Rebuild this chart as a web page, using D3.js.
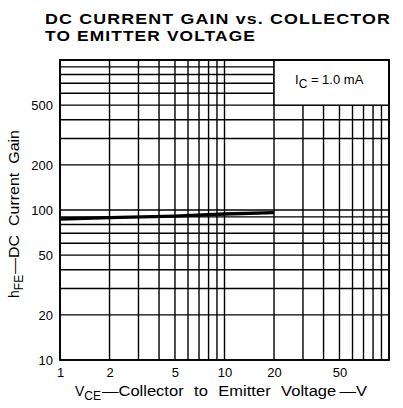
<!DOCTYPE html>
<html><head><meta charset="utf-8">
<script src="https://cdn.jsdelivr.net/npm/d3@7"></script>
<style>body{margin:0;background:#fff}svg{display:block}text{font-family:"Liberation Sans",Arial,sans-serif;fill:#000}</style>
</head><body>
<svg id="c" width="403" height="408"></svg>
<script>
const vce = [1, 2, 5, 10, 20];
const hfe = [87, 89, 91, 94, 96];
const xTicks = [1, 2, 5, 10, 20, 50];
const yTicks = [10, 20, 50, 100, 200, 500];
const xGrid = [1,2,3,4,5,6,7,8,9,10,20,30,40,50,60,70,80,90,100];
const yGrid = [10,20,30,40,50,60,70,80,90,100,200,300,400,500,600,700,800,900,1000];

const svg = d3.select("#c");
const L = 60, R = 389, T = 60, B = 360;
const x = d3.scaleLog().domain([1, 100]).range([L, R]);
const y = d3.scaleLog().domain([10, 1000]).range([B, T]);

// title
svg.append("text").attr("x", 45).attr("y", 24).attr("font-size", 15.5).attr("font-weight", "bold")
  .attr("letter-spacing", 1)
  .attr("textLength", 346).attr("lengthAdjust", "spacingAndGlyphs").text("DC CURRENT GAIN vs. COLLECTOR");
svg.append("text").attr("x", 45).attr("y", 41).attr("font-size", 15.5).attr("font-weight", "bold")
  .attr("letter-spacing", 1)
  .attr("textLength", 211).attr("lengthAdjust", "spacingAndGlyphs").text("TO EMITTER VOLTAGE");

const g = svg.append("g");
g.selectAll(".vg").data(xGrid).enter().append("line")
  .attr("x1", d => x(d)).attr("x2", d => x(d)).attr("y1", T).attr("y2", B)
  .attr("stroke", "#000").attr("stroke-width", 1.4);
g.selectAll(".hg").data(yGrid).enter().append("line")
  .attr("y1", d => y(d)).attr("y2", d => y(d)).attr("x1", L).attr("x2", R)
  .attr("stroke", "#000").attr("stroke-width", 1.4);

// annotation box
g.append("rect").attr("x", x(20)).attr("y", y(1000)).attr("width", x(100) - x(20)).attr("height", y(500) - y(1000))
  .attr("fill", "#fff").attr("stroke", "#000").attr("stroke-width", 1.4);
const ann = g.append("text").attr("x", 295).attr("y", 84).attr("font-size", 13);
ann.append("tspan").text("I");
ann.append("tspan").attr("dy", 4).attr("font-size", 12).text("C");
ann.append("tspan").attr("dy", -4).text(" = 1.0 mA");

g.append("rect").attr("x", L).attr("y", T).attr("width", R - L).attr("height", B - T)
  .attr("fill", "none").attr("stroke", "#000").attr("stroke-width", 1.8);

// data
const line = d3.line().x(d => x(d[0])).y(d => y(d[1]));
g.append("path").datum(vce.map((v, i) => [v, hfe[i]])).attr("d", line)
  .attr("fill", "none").attr("stroke", "#000").attr("stroke-width", 3.4);

// axes labels
const xa = d3.axisBottom(x).tickValues(xTicks).tickSize(0).tickPadding(6).tickFormat(d3.format("d"));
svg.append("g").attr("transform", `translate(0,${B + 2})`).call(xa)
  .call(s => s.select(".domain").remove())
  .selectAll("text").attr("font-size", 13).attr("font-family", "Liberation Sans, Arial, sans-serif").attr("fill", "#000");
const ya = d3.axisLeft(y).tickValues(yTicks).tickSize(0).tickPadding(7).tickFormat(d3.format("d"));
svg.append("g").attr("transform", `translate(${L},0)`).call(ya)
  .call(s => s.select(".domain").remove())
  .selectAll("text").attr("font-size", 13).attr("font-family", "Liberation Sans, Arial, sans-serif").attr("fill", "#000");

// x title
const xt = svg.append("text").attr("x", 75).attr("y", 396).attr("font-size", 14);
xt.append("tspan").text("V");
xt.append("tspan").attr("dy", 4).attr("font-size", 12).text("CE");
svg.append("text").attr("x", 102).attr("y", 396).attr("font-size", 14)
  .attr("textLength", 265).attr("lengthAdjust", "spacingAndGlyphs").attr("word-spacing", 5)
  .text("\u2014Collector to Emitter Voltage\u2009\u2014V");

// y title
const yt = svg.append("text").attr("transform", "translate(19,298) rotate(-90)").attr("font-size", 14);
yt.append("tspan").text("h");
yt.append("tspan").attr("dy", 4).attr("font-size", 12).text("FE");
svg.append("text").attr("transform", "translate(19,274) rotate(-90)").attr("font-size", 14)
  .attr("textLength", 144).attr("lengthAdjust", "spacingAndGlyphs").attr("word-spacing", 4)
  .text("\u2014DC Current Gain");
</script>
</body></html>
